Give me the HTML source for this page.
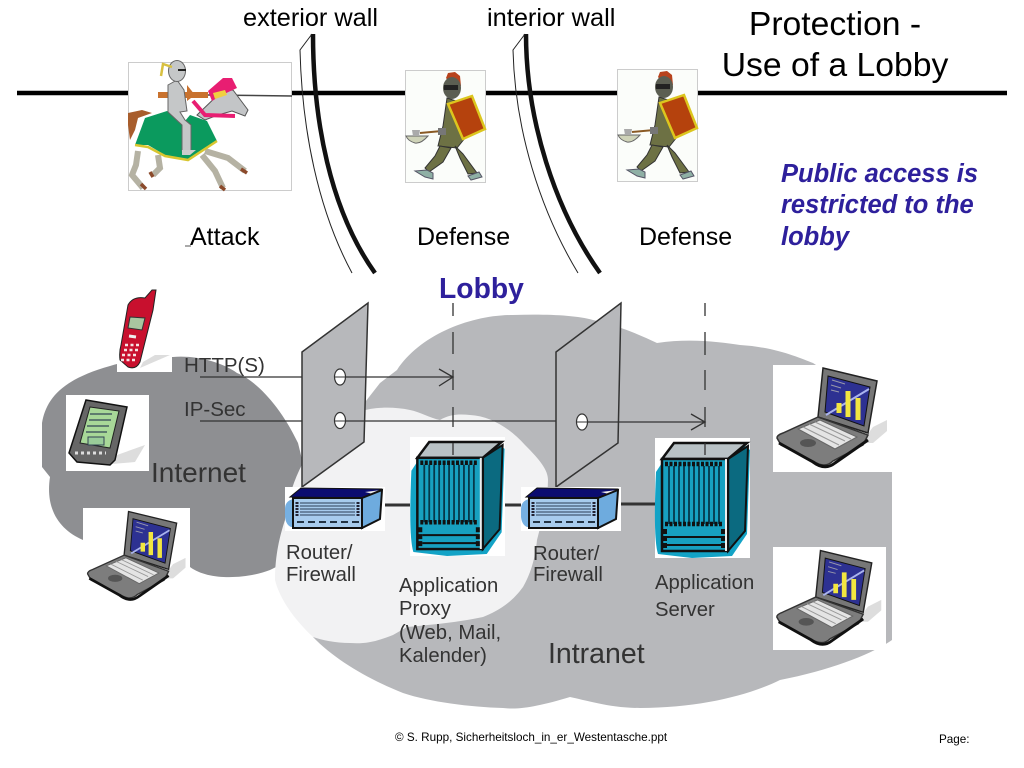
<!DOCTYPE html>
<html><head><meta charset="utf-8"><style>html,body{margin:0;padding:0;background:#fff}svg{display:block}text{font-family:"Liberation Sans",sans-serif}</style></head><body>
<svg width="1024" height="768" viewBox="0 0 1024 768" xmlns="http://www.w3.org/2000/svg">
<defs>
<symbol id="laptop" viewBox="0 0 119 107" overflow="visible">
<path d="M88 78 L100 62 L114 55 L114 66 L100 78Z" fill="#ddd"/>
<path d="M50 3 L104 16 L95 68 L45 52Z" fill="#777" stroke="#222" stroke-width="1.500"/>
<path d="M55 11 L97 22 L91 61 L52 47Z" fill="#2d3192" stroke="#111"/>
<path d="M53 50 L96 24" stroke="#aab4ee" stroke-width="2"/>
<path d="M59 15L72 19M58 20L68 23M58 25L66 27" stroke="#99a" stroke-width="1"/>
<path d="M66 48V38M75 52V26M85 55V33" stroke="#f2e640" stroke-width="5" fill="none"/>
<path d="M4 73 Q4 70 10 68 L45 52 L95 70 L90 80 L60 96 Q52 104 40 96 L8 80Z" fill="#7d7d7d" stroke="#333" stroke-width="1.500"/>
<path d="M25 64 L47 55 L84 72 L62 84Z" fill="#e4e4e4" stroke="#666"/>
<path d="M30 62 L66 80M36 59 L72 76M42 57 L78 74" stroke="#999" stroke-width="1" />
<ellipse cx="35" cy="78" rx="8" ry="4" fill="#555"/>
<path d="M6 78 L40 97 Q52 106 62 98 L95 75" fill="none" stroke="#111" stroke-width="3"/>
</symbol>
<symbol id="server" viewBox="0 0 95 120" overflow="visible">
<path d="M1 34 Q-2 100 3 116 L37 120 L77 118 L92 96 L95 12 L85 4 L20 5Z" fill="#13a3c6"/>
<path d="M7 21 L19 5 L92 5 L73 21Z" fill="#b9c2c6" stroke="#111" stroke-width="2.500"/>
<path d="M73 21 L93 8 L90 93 L73 113Z" fill="#0b6a80" stroke="#111" stroke-width="2"/>
<rect x="7" y="21" width="66" height="92" fill="#17a0c0" stroke="#111" stroke-width="2.500"/>
<path d="M71 21V113" stroke="#eee" stroke-width="2"/>
<path d="M14 28V86M19 28V86M24 28V86M29 28V86M34 28V86M39 28V86M44 28V86M49 28V86M54 28V86M59 28V86M64 28V86" stroke="#06384a" stroke-width="1.800"/>
<path d="M10 26H68M10 86H68" stroke="#111" stroke-width="4.500" stroke-dasharray="3 1.500"/>
<path d="M12 99H68M12 107H68" stroke="#111" stroke-width="2"/>
<path d="M10 91V111M68 91V111" stroke="#111" stroke-width="4" stroke-dasharray="5 2"/>
</symbol>
<symbol id="router" viewBox="0 0 100 44" overflow="visible">
<rect x="0" y="0" width="100" height="44" fill="#fff"/>
<path d="M0 22 Q0 14 8 12 L80 12 V40 H6 Q1 38 0 30Z" fill="#76b0e2"/>
<path d="M5 10 L16 1 L97 2 L77 11Z" fill="#0b0c70" stroke="#111"/>
<path d="M80 5 L96 3 L92 8Z" fill="#eee"/>
<path d="M77 11 L97 3 L95 32 L77 41Z" fill="#6eabde" stroke="#111" stroke-width="2"/>
<rect x="8" y="11" width="69" height="30" fill="#a7cbed" stroke="#111" stroke-width="2"/>
<path d="M15 16H70M15 19H70M15 22H70M15 25H70M15 28H70" stroke="#2b3e55" stroke-width="1"/>
<path d="M12 15V30M73 15V30" stroke="#223" stroke-width="3" stroke-dasharray="2 1"/>
<path d="M12 35H74" stroke="#234" stroke-width="2" stroke-dasharray="7 4"/>
</symbol>
<symbol id="guard" viewBox="0 0 81 113" overflow="visible">
<rect x=".5" y=".5" width="80" height="112" fill="#fbfdfa" stroke="#ccc"/>
<path d="M41 8 L43 3 L50 2 L55 6 L56 16 L44 12Z" fill="#b8431d"/>
<ellipse cx="47" cy="18" rx="9" ry="11" fill="#5b5e52"/>
<rect x="39" y="15" width="14" height="5" fill="#222"/>
<path d="M42 28 L57 33 L60 68 L52 78 L33 76 L38 56Z" fill="#6d7144" stroke="#333"/>
<path d="M43 34 L67 26 L80 59 L58 69Z" fill="#b5420d" stroke="#dcc61e" stroke-width="2.500"/>
<path d="M15 63 L37 61" stroke="#8a5a25" stroke-width="2"/>
<rect x="33" y="58" width="8" height="7" fill="#777"/>
<path d="M1 66 H23 Q16 74 10 73 Q3 71 1 66Z" fill="#cfd3b8" stroke="#666"/>
<path d="M7 60 L15 60 L14 66 L8 66Z" fill="#aaa"/>
<path d="M35 76 L46 78 L38 92 L24 102 L20 98 L30 86Z" fill="#6d7144" stroke="#333"/>
<path d="M50 76 L58 84 L72 103 L63 104 L55 88Z" fill="#6d7144" stroke="#333"/>
<path d="M10 101 L22 100 L28 103 L28 109 L20 107Z M63 106 L74 102 L77 107 L66 110Z" fill="#8fb0a5" stroke="#556"/>
</symbol>
</defs>
<rect width="1024" height="768" fill="#fff"/>
<!-- clouds -->
<path fill="#8e8f92" d="M42 423 C46 400 60 380 110 366 C130 360 150 357 173 357 C195 355 222 362 237 373 C255 380 280 405 298 443 C305 470 310 500 313 533 C305 550 285 563 270 570 C250 578 210 582 190 567 L83 540 C60 530 45 510 50 477 L42 467Z"/>
<path fill="#b7b8bb" d="M355 415 L380 383 L397 370 C420 335 470 315 513 315 C545 314 575 315 593 320 C620 326 640 335 657 343 C690 338 720 342 740 345 C775 347 800 358 813 363 L892 415 L892 640 C870 655 830 670 780 680 C750 695 700 708 640 708 C610 708 585 700 570 697 C540 706 520 710 503 708 C470 707 430 702 403 693 C370 680 335 660 313 637 L300 500Z"/>
<path fill="#f2f2f3" d="M285 520 C290 480 310 440 340 420 C360 408 385 405 410 410 C420 412 430 418 440 420 C450 414 460 414 470 415 C490 416 510 428 525 445 C540 460 548 470 548 480 C548 500 542 520 537 540 C535 560 530 575 523 587 C510 605 495 612 483 617 C460 622 430 625 407 627 L393 635 C375 642 365 644 350 643 C335 643 322 640 313 637 C295 620 280 600 275 580 C275 555 280 535 285 520Z"/>
<!-- top -->
<path d="M17 93H1007" stroke="#000" stroke-width="4.500"/>
<path d="M313 34 C313 120 330 210 375 273" fill="none" stroke="#111" stroke-width="4.500"/>
<path d="M312 34 L300 50 C302 130 318 210 352 273" fill="none" stroke="#222" stroke-width="1"/>
<path d="M526 34 C526 120 555 210 600 273" fill="none" stroke="#111" stroke-width="4.500"/>
<path d="M525 34 L513 50 C515 130 540 210 578 273" fill="none" stroke="#222" stroke-width="1"/>
<!-- knight -->
<rect x="128.500" y="62.500" width="163" height="128" fill="#fff" stroke="#ccc"/>
<path d="M208 95 L292 96" stroke="#444" stroke-width="1.500"/>
<path d="M128 113 L142 110 L152 113 L138 118 L135 130 L130 140 L128 125Z" fill="#a85d2c"/>
<path d="M138 151 L136 165 L132 175 L143 188" fill="none" stroke="#b5b2a3" stroke-width="6"/>
<path d="M158 155 L160 168 L153 175" fill="none" stroke="#b5b2a3" stroke-width="6"/>
<path d="M205 151 L228 158 L245 171" fill="none" stroke="#b5b2a3" stroke-width="6"/>
<path d="M202 155 L215 171 L223 188" fill="none" stroke="#b5b2a3" stroke-width="6"/>
<path d="M141 184L146 189M150 172L153 177M241 169L247 173M220 186L225 190" stroke="#8b4a2b" stroke-width="3.500"/>
<path d="M197 115 L222 91 L233 90 L248 110 L245 116 L232 111 L218 115 L205 120Z" fill="#c3c5c7" stroke="#555"/>
<path d="M135 145 L145 118 L167 111 L185 121 L190 115 L207 121 L217 141 L188 160 L165 155 L148 145Z" fill="#0b9a5e"/>
<path d="M135 145 L148 147 L165 156 L188 160 L217 141" fill="none" stroke="#d8c62f" stroke-width="2.500"/>
<path d="M208 91 L223 78 L232 78 L237 88 L222 95 L212 101Z" fill="#e81e72"/>
<path d="M213 93 L225 90 L227 95 L215 99Z" fill="#f0d040"/>
<path d="M193 101 L205 115 L235 116" fill="none" stroke="#e81e72" stroke-width="4"/>
<path d="M158 95 H208" stroke="#c9722e" stroke-width="6"/>
<path d="M187 85 L187 101 L195 95Z" fill="#c9722e"/>
<path d="M168 85 L177 80 L184 90 L187 111 L180 112 L185 120 L191 125 L191 151 L182 151 L182 125 L168 112Z" fill="#c5c7c8" stroke="#666"/>
<path d="M182 150 H196 L190 155 H182Z" fill="#ccc"/>
<ellipse cx="177" cy="71" rx="8.500" ry="10.500" fill="#c5c7c8" stroke="#666"/>
<path d="M178 70 H186" stroke="#222" stroke-width="2"/>
<path d="M172 67 L163 64 L161 76" fill="none" stroke="#d8c040" stroke-width="2.500"/>
<!-- guards -->
<use href="#guard" x="405" y="70" width="81" height="113"/>
<use href="#guard" x="617" y="69" width="81" height="113"/>
<!-- top text -->
<text x="243" y="26" font-size="25.300">exterior wall</text>
<text x="487" y="26" font-size="25.400">interior wall</text>
<text x="835" y="35" font-size="33.700" text-anchor="middle">Protection -</text>
<text x="835" y="76" font-size="33.700" text-anchor="middle">Use of a Lobby</text>
<g font-size="25.500" font-weight="bold" font-style="italic" fill="#2e209c"><text x="781" y="182">Public access is</text><text x="781" y="213">restricted to the</text><text x="781" y="245">lobby</text></g>
<g font-size="25"><text x="190" y="245">Attack</text><text x="417" y="245">Defense</text><text x="639" y="245">Defense</text></g>
<path d="M185 246H191" stroke="#555" stroke-width="1"/>
<text x="439" y="298" font-size="28.300" font-weight="bold" fill="#2e209c">Lobby</text>
<!-- phone -->
<rect x="117" y="350" width="55" height="22" fill="#fff"/>
<path d="M140 368 L170 355 L155 355 L143 362Z" fill="#ddd"/>
<path d="M128 305 Q133 296 145 298 L152 290 L156 290 L153 310 L140 362 Q136 370 128 367 L120 360 Q119 352 121 345Z" fill="#c8102e" stroke="#222"/>
<path d="M130 317 L145 318 L142 330 L128 328Z" fill="#a9c6a0" stroke="#333"/>
<path d="M125 345H140M124 350H139M122 355H137M121 360H135" stroke="#f5e5e5" stroke-width="2.500" stroke-dasharray="3 2.500"/>
<path d="M129 336L136 337" stroke="#eee" stroke-width="3"/>
<!-- pda -->
<rect x="66" y="395" width="83" height="76" fill="#fff"/>
<path d="M117 455 L145 445 L135 462 L112 464Z" fill="#ddd"/>
<path d="M86 400 L127 407 L115 460 L110 465 L77 462 L69 453Z" fill="#666" stroke="#111" stroke-width="1.500"/>
<path d="M90 407 L119 411 L110 448 L80 443Z" fill="#a8d898" stroke="#222"/>
<path d="M90 414H112M89 420H111M87 426H109M86 432H107" stroke="#345" stroke-width="1.300"/>
<rect x="88" y="437" width="16" height="8" fill="#9c9" stroke="#345"/>
<path d="M75 453H106" stroke="#ddd" stroke-width="3" stroke-dasharray="3 3"/>
<!-- laptops -->
<rect x="83" y="508" width="107" height="97" fill="#fff"/>
<use href="#laptop" x="84" y="508" width="106" height="97"/>
<rect x="773" y="365" width="119" height="107" fill="#fff"/>
<use href="#laptop" x="773" y="365" width="119" height="107"/>
<rect x="773" y="547" width="113" height="103" fill="#fff"/>
<use href="#laptop" x="773" y="547" width="113" height="103"/>
<!-- router links -->
<path d="M385 505H410M505 505H521M621 504H655" stroke="#333" stroke-width="3"/>
<!-- planes -->
<g fill="#b7b8bb" stroke="#333" stroke-width="1.500">
<path d="M302 352 L368 303 L364 442 L302 487Z"/>
<path d="M556 352 L621 303 L618 443 L556 487Z"/>
</g>
<rect x="410" y="437" width="95" height="119" fill="#fff"/>
<rect x="655" y="438" width="95" height="120" fill="#fff"/>
<use href="#server" x="410" y="437" width="95" height="119"/>
<use href="#server" x="655" y="438" width="95" height="120"/>
<use href="#router" x="285" y="487" width="100" height="44"/>
<use href="#router" x="521" y="487" width="100" height="44"/>
<!-- connectors -->
<g stroke="#333" stroke-width="1.300" fill="none">
<path d="M453 303V316M453 332V354M453 370V390M453 407V427M453 443V455"/>
<path d="M705 303V316M705 332V355M705 370V390M705 407V427M705 443V455"/>
<path d="M200 377H302M346 377H453M439 369L453 377L439 386"/>
<path d="M200 421H302M346 421H556M588 422H705M691 414L705 422L691 430"/>
</g>
<g fill="#fff" stroke="#333" stroke-width="1.200"><ellipse cx="340" cy="377" rx="5.500" ry="8"/><ellipse cx="340" cy="420.500" rx="5.500" ry="8"/><ellipse cx="582" cy="422" rx="5.500" ry="8"/></g>
<path d="M335 377H345M335 421H345M577 422H587" stroke="#333"/>
<!-- diagram labels -->
<g fill="#333" font-size="20.500"><text x="184" y="372">HTTP(S)</text><text x="184" y="416">IP-Sec</text></g>
<text x="151" y="482" font-size="28" fill="#333">Internet</text>
<g fill="#333" font-size="20.300">
<text x="286" y="559">Router/</text><text x="286" y="581">Firewall</text>
<text x="533" y="560">Router/</text><text x="533" y="581">Firewall</text>
<text x="399" y="592">Application</text><text x="399" y="615">Proxy</text><text x="399" y="639">(Web, Mail,</text><text x="399" y="662">Kalender)</text>
<text x="655" y="589">Application</text><text x="655" y="616">Server</text>
</g>
<text x="548" y="663" font-size="28.500" fill="#333">Intranet</text>
<text x="395" y="741" font-size="11.700">©  S. Rupp, Sicherheitsloch_in_er_Westentasche.ppt</text>
<text x="939" y="743" font-size="11.700">Page:</text>
</svg>
</body></html>
